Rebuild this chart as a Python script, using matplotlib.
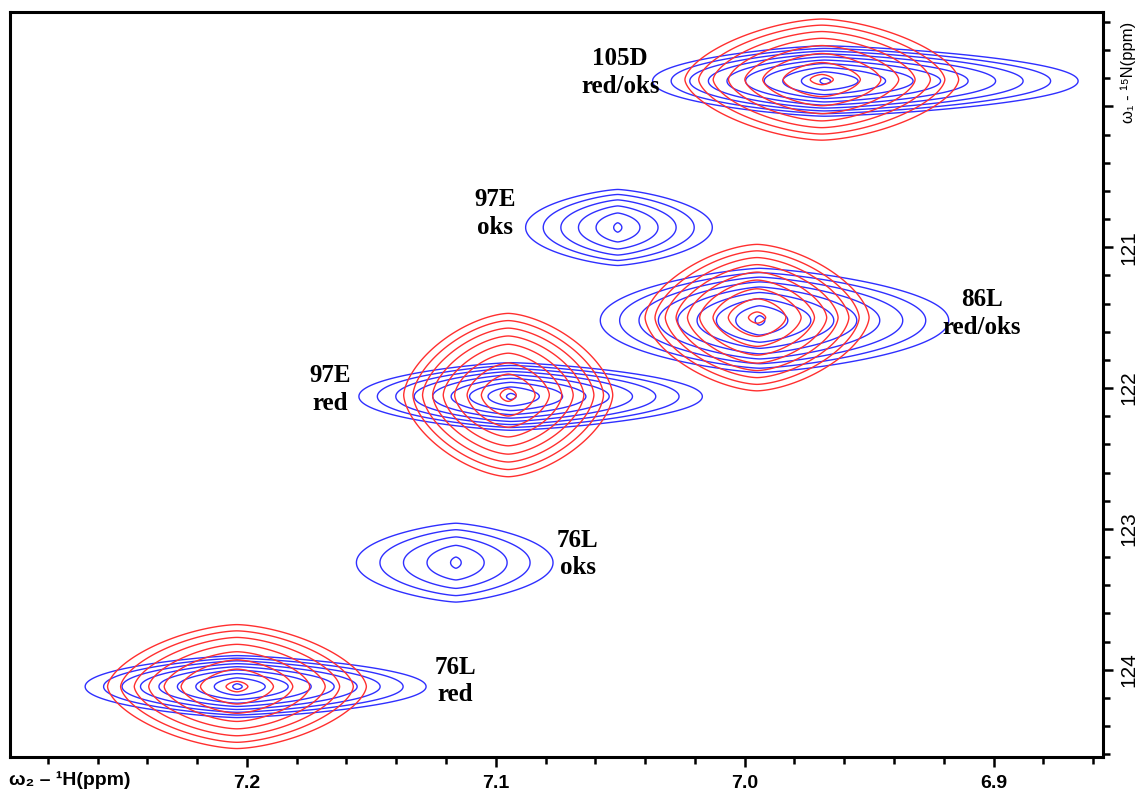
import matplotlib.pyplot as plt
import numpy as np
from matplotlib.ticker import MultipleLocator, FuncFormatter

plt.rcParams["font.family"] = ["Liberation Sans", "DejaVu Sans"]

# axis window (ppm)
h_lim = (7.2954, 6.856)
n_lim = (119.33, 124.62)

# blue (oks) peaks: centre, outer-contour half extents, number of rings
blue_h = [6.968, 7.051, 6.994, 7.094, 7.116, 7.204]
blue_n = [119.82, 120.86, 121.52, 122.06, 123.24, 124.12]
blue_left = [0.069, 0.037, 0.064, 0.061, 0.040, 0.061]
blue_right = [0.102, 0.038, 0.076, 0.077, 0.039, 0.076]
blue_half_n = [0.25, 0.27, 0.37, 0.24, 0.28, 0.22]
blue_rings = [10, 6, 9, 9, 5, 9]

# red (red) peaks
red_h = [6.969, 6.995, 7.095, 7.204]
red_n = [119.81, 121.50, 122.05, 124.12]
red_half_h = [0.055, 0.045, 0.042, 0.052]
red_half_n = [0.43, 0.52, 0.58, 0.44]
red_rings = [8, 9, 9, 8]

# assignments
label_text = ["105D\nred/oks", "97E\noks", "86L\nred/oks", "97E\nred", "76L\noks", "76L\nred"]
label_h = [7.050, 7.1003, 6.9047, 7.1666, 7.067, 7.1164]
label_n = [119.76, 120.76, 121.47, 122.01, 123.18, 124.08]

ratio = 1.4
levels = ratio ** np.arange(14)

H, N = np.meshgrid(np.linspace(h_lim[1], h_lim[0], 1400),
                   np.linspace(n_lim[0], n_lim[1], 900))

Zb = np.zeros_like(H)
for h0, n0, wl, wr, wn, k in zip(blue_h, blue_n, blue_left, blue_right, blue_half_n, blue_rings):
    amp = ratio ** (k - 1) * 1.08
    t = np.log(amp)
    dh = H - h0
    u = np.abs(dh) / np.where(dh > 0, wl / t, wr / t)
    v = np.abs(N - n0) / (wn / t ** (1 / 1.5))
    r = (u ** 1.35 + (v ** 1.5) ** 1.35) ** (1 / 1.35)
    Zb = np.maximum(Zb, amp * np.exp(-r))

Zr = np.zeros_like(H)
for h0, n0, wh, wn, k in zip(red_h, red_n, red_half_h, red_half_n, red_rings):
    amp = ratio ** (k - 1) * 1.08
    t = np.log(amp)
    u = np.abs(H - h0) / (wh / t ** (1 / 1.4))
    v = np.abs(N - n0) / (wn / t ** (1 / 1.4))
    r = (u ** 1.6 + v ** 1.6) ** (1 / 1.6)
    Zr = np.maximum(Zr, amp * np.exp(-r ** 1.4))

fig = plt.figure(figsize=(11.41, 7.94), dpi=100)
ax = fig.add_axes([9.5 / 1141, 1 - 757 / 794, (1103 - 9.5) / 1141, (757 - 12) / 794])

ax.contour(H, N, Zb, levels=levels, colors="#2f2fff", linewidths=1.0)
ax.contour(H, N, Zr, levels=levels, colors="#ff2f2f", linewidths=1.0)

for txt, x, y in zip(label_text, label_h, label_n):
    ax.text(x, y, txt, ha="center", va="center", family="Liberation Serif",
            weight="bold", fontsize=18, linespacing=1.25)

ax.set_xlim(*h_lim)
ax.set_ylim(n_lim[1], n_lim[0])

ax.xaxis.set_major_locator(MultipleLocator(0.1))
ax.xaxis.set_minor_locator(MultipleLocator(0.02))
ax.xaxis.set_major_formatter(FuncFormatter(lambda v, p: f"{v:.1f}"))
ax.yaxis.set_major_locator(MultipleLocator(1))
ax.yaxis.set_minor_locator(MultipleLocator(0.2))
# the 120 label is replaced by the axis title in the original
ax.yaxis.set_major_formatter(FuncFormatter(lambda v, p: "" if round(v) == 120 else f"{v:.0f}"))

ax.tick_params(axis="x", which="both", direction="out", width=1.8, labelsize=14, pad=6)
ax.tick_params(axis="x", which="major", length=7)
ax.tick_params(axis="x", which="minor", length=5)
ax.tick_params(axis="y", which="both", left=False, right=True, labelleft=False,
               labelright=True, direction="out", width=1.8, labelsize=15, pad=5)
ax.tick_params(axis="y", which="major", length=7)
ax.tick_params(axis="y", which="minor", length=5)
for lab in ax.get_xticklabels():
    lab.set_fontweight("bold")
for lab in ax.get_yticklabels():
    lab.set_rotation(90)
    lab.set_va("center")
for s in ax.spines.values():
    s.set_linewidth(2.2)

fig.text(9 / 1141, 1 - 780 / 794, "ω₂ – ¹H(ppm)", ha="left", va="center",
         fontsize=14, weight="bold")
fig.text(1128 / 1141, 1 - 72 / 794, "ω₁ - ¹⁵N(ppm)", ha="center", va="center",
         rotation=90, fontsize=12)

fig.savefig("out.png", dpi=100)
